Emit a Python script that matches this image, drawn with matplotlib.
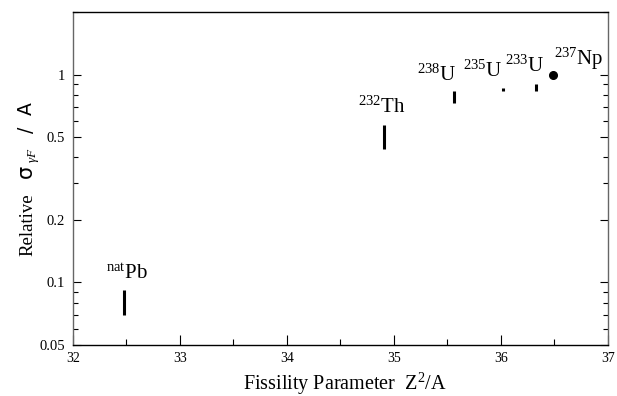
import matplotlib
matplotlib.use("Agg")
import matplotlib.pyplot as plt
from matplotlib.ticker import FixedLocator, LogLocator, NullFormatter, FixedFormatter

plt.rcParams['font.family'] = ['Liberation Serif', 'DejaVu Serif']
plt.rcParams['mathtext.fontset'] = 'custom'
plt.rcParams['mathtext.rm'] = 'Liberation Serif'
plt.rcParams['mathtext.it'] = 'Liberation Serif:italic'
plt.rcParams['mathtext.bf'] = 'Liberation Serif:bold'
plt.rcParams['mathtext.sf'] = 'DejaVu Sans'

# Data
nuclei = ['natPb', '232Th', '238U', '235U', '233U', '237Np']
labels = [r'$^{\mathrm{nat}}\mathrm{Pb}$', r'$^{232}\mathrm{Th}$', r'$^{238}\mathrm{U}$',
          r'$^{235}\mathrm{U}$', r'$^{233}\mathrm{U}$', r'$^{237}\mathrm{Np}$']
z2a = [32.48, 34.91, 35.56, 36.02, 36.33, 36.49]
rel_sigma = [0.080, 0.50, 0.78, 0.848, 0.865, 1.0]
err_low = [0.070, 0.438, 0.728, 0.836, 0.835, 1.0]
err_high = [0.092, 0.569, 0.832, 0.860, 0.898, 1.0]
label_x = [32.31, 34.66, 35.22, 35.65, 36.04, 36.50]
label_y = [0.104, 0.655, 0.93, 0.98, 1.035, 1.11]

xticks = [32, 33, 34, 35, 36, 37]
yticks = [0.05, 0.1, 0.2, 0.5, 1]
ytick_labels = ['0.05', '0.1', '0.2', '0.5', '1']

W, H = 617, 396
fig = plt.figure(figsize=(W / 100, H / 100), dpi=100)
ax = fig.add_axes([0.1183, 0.1288, 0.867, 0.841])

for i in range(len(z2a)):
    if nuclei[i] == '237Np':
        ax.plot([z2a[i]], [rel_sigma[i]], 'o', color='black', markersize=5.5)
    else:
        lo = rel_sigma[i] - err_low[i]
        hi = err_high[i] - rel_sigma[i]
        ax.errorbar([z2a[i]], [rel_sigma[i]], yerr=[[lo], [hi]], fmt='none',
                    ecolor='black', elinewidth=2.2, capsize=0)
    ax.text(label_x[i], label_y[i], labels[i], fontsize=15, ha='left', va='baseline')

ax.set_yscale('log')
ax.set_xlim(32, 37)
ax.set_ylim(0.05, 2.0)
ax.xaxis.set_major_locator(FixedLocator(xticks))
ax.xaxis.set_minor_locator(FixedLocator([32.5, 33.5, 34.5, 35.5, 36.5]))
ax.set_xticklabels([str(t) for t in xticks])
ax.yaxis.set_major_locator(FixedLocator(yticks))
ax.yaxis.set_major_formatter(FixedFormatter(ytick_labels))
ax.yaxis.set_minor_locator(LogLocator(base=10, subs=[2, 3, 4, 5, 6, 7, 8, 9]))
ax.yaxis.set_minor_formatter(NullFormatter())

ax.tick_params(axis='x', which='major', direction='in', length=7, width=0.8, labelsize=10, pad=5, top=False)
ax.tick_params(axis='x', which='minor', direction='in', length=4, width=0.8, top=False)
ax.tick_params(axis='y', which='major', direction='in', length=6, width=0.8, labelsize=10.5, right=True, pad=6)
ax.tick_params(axis='y', which='minor', direction='in', length=3.5, width=0.8, right=True)

for s in ['left', 'right']:
    ax.spines[s].set_color('#666666')
for s in ax.spines.values():
    s.set_linewidth(1.0)

ax.set_xlabel(r'Fissility Parameter  Z$^2$/A', fontsize=14.5, labelpad=4)
ax.xaxis.label.set_x(0.508)

# y-axis label built from pieces (rotated, reading bottom to top)
def ytext(px_x, px_y, s, **kw):
    fig.text(px_x / W, 1 - px_y / H, s, rotation=90, rotation_mode='anchor',
             ha='left', va='baseline', **kw)

base_x = 32
ytext(base_x, 256, 'Relative', fontsize=13.5)
ytext(base_x, 178, '\u03c3', fontsize=15, family='DejaVu Sans')
ytext(base_x + 4, 163, r'$\gamma F$', fontsize=9.5)
ytext(base_x, 133, '/', fontsize=13.5, family='DejaVu Sans')
ytext(base_x, 115, 'A', fontsize=13.5, family='DejaVu Sans')

fig.savefig('out.png', dpi=100)
